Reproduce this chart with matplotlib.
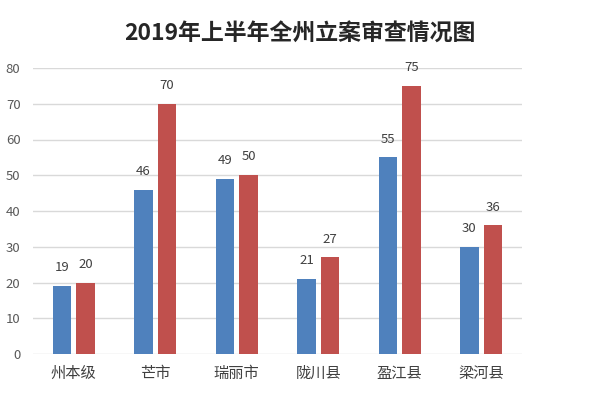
import numpy as np
import matplotlib
matplotlib.use('Agg')
import matplotlib.pyplot as plt

plt.rcParams['font.family'] = ['Noto Sans CJK SC', 'DejaVu Sans']

categories = ['州本级', '芒市', '瑞丽市', '陇川县', '盈江县', '梁河县']
blue_vals = [19, 46, 49, 21, 55, 30]
red_vals = [20, 70, 50, 27, 75, 36]
yticks = [0, 10, 20, 30, 40, 50, 60, 70, 80]

fig = plt.figure(figsize=(6, 4), dpi=100)
ax = fig.add_axes([0.055, 0.115, 0.815, 0.715])

x = np.arange(len(categories))
w = 0.23
off = 0.145
b1 = ax.bar(x - off, blue_vals, w, color='#4F81BD', zorder=3)
b2 = ax.bar(x + off, red_vals, w, color='#C0504D', zorder=3)

for bars, vals in ((b1, blue_vals), (b2, red_vals)):
    for r, v in zip(bars, vals):
        ax.text(r.get_x() + r.get_width() / 2, v + 3.3, str(v),
                ha='center', va='bottom', fontsize=9.5, color='#404040')

ax.set_xlim(-0.5, len(categories) - 0.5)
ax.set_ylim(0, 80)
ax.set_yticks(yticks)
ax.set_xticks(x)
ax.set_xticklabels(categories, fontsize=11, color='#404040')
ax.tick_params(axis='y', labelsize=9.5, colors='#595959', length=0, pad=9)
ax.tick_params(axis='x', length=0, pad=8)
ax.grid(axis='y', color='#D9D9D9', linewidth=1, zorder=0)
for s in ax.spines.values():
    s.set_visible(False)

fig.text(0.5, 0.915, '2019年上半年全州立案审查情况图', ha='center', va='center',
         fontsize=16.5, fontweight='bold', color='#262626')

fig.savefig('out.png', dpi=100)
